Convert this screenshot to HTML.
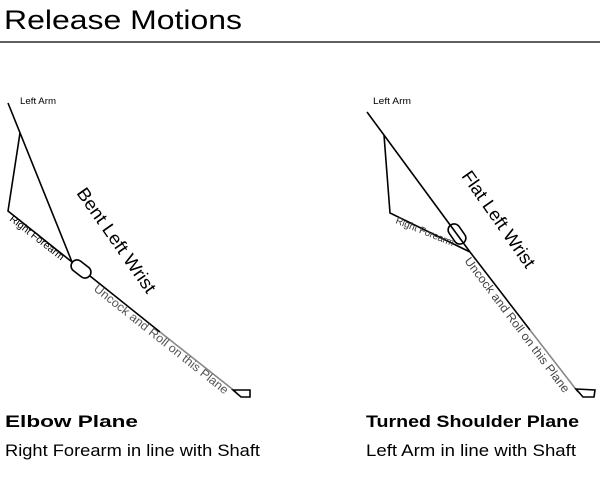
<!DOCTYPE html>
<html><head><style>
body{margin:0;background:#fff;width:612px;height:485px;overflow:hidden}
text{font-family:"Liberation Sans",sans-serif}
</style></head><body>
<svg width="612" height="485" viewBox="0 0 612 485" xmlns="http://www.w3.org/2000/svg">
<text x="4" y="29" font-size="27" textLength="238" lengthAdjust="spacingAndGlyphs">Release Motions</text>
<line x1="0" y1="42" x2="600" y2="42" stroke="#000" stroke-width="1.2"/>

<!-- Left diagram -->
<g fill="none" stroke="#000" stroke-width="1.6">
<polyline points="8,103 72,262"/>
<polyline points="20,133 8,211 72,262"/>
<rect x="70" y="263" width="22" height="12" rx="6" transform="rotate(38 81 269)"/>
<line x1="90" y1="276" x2="160" y2="332"/>
<line x1="160" y1="332" x2="236" y2="392" stroke="#888"/>
<polygon points="233,390 250,390 250,397 241,397"/>
</g>
<text x="20" y="104" font-size="9" textLength="36" lengthAdjust="spacingAndGlyphs">Left Arm</text>
<text x="9" y="220" font-size="10" textLength="66" lengthAdjust="spacingAndGlyphs" transform="rotate(38 9 220)">Right Forearm</text>
<text x="76" y="193" font-size="18" textLength="124" lengthAdjust="spacingAndGlyphs" transform="rotate(55 76 193)">Bent  Left Wrist</text>
<text x="93" y="290" font-size="12" fill="#555" textLength="168" lengthAdjust="spacingAndGlyphs" transform="rotate(38.5 93 290)">Uncock and Roll on this Plane</text>

<!-- Right diagram -->
<g fill="none" stroke="#000" stroke-width="1.6">
<polyline points="367,112 470,252"/>
<polyline points="384,135 390,213 470,252"/>
<rect x="446" y="228" width="22" height="12" rx="6" transform="rotate(55 457 234)"/>
<line x1="470" y1="252" x2="530" y2="330"/>
<line x1="530" y1="330" x2="578" y2="392" stroke="#888"/>
<polygon points="576,389 595,390 594,397 583,397"/>
</g>
<text x="373" y="104" font-size="9" textLength="38" lengthAdjust="spacingAndGlyphs">Left Arm</text>
<text x="395" y="223" font-size="10" fill="#333" textLength="62" lengthAdjust="spacingAndGlyphs" transform="rotate(22 395 223)">Right Forearm</text>
<text x="461" y="176" font-size="18" textLength="114" lengthAdjust="spacingAndGlyphs" transform="rotate(55 461 176)">Flat Left Wrist</text>
<text x="464" y="261" font-size="12" fill="#444" textLength="166" lengthAdjust="spacingAndGlyphs" transform="rotate(53 464 261)">Uncock and Roll on this Plane</text>

<text x="5" y="427" font-size="17" font-weight="bold" textLength="133" lengthAdjust="spacingAndGlyphs">Elbow Plane</text>
<text x="5" y="456" font-size="17" textLength="255" lengthAdjust="spacingAndGlyphs">Right Forearm in line with Shaft</text>
<text x="366" y="427" font-size="17" font-weight="bold" textLength="213" lengthAdjust="spacingAndGlyphs">Turned Shoulder Plane</text>
<text x="366" y="456" font-size="17" textLength="210" lengthAdjust="spacingAndGlyphs">Left Arm in line with Shaft</text>
</svg>
</body></html>
